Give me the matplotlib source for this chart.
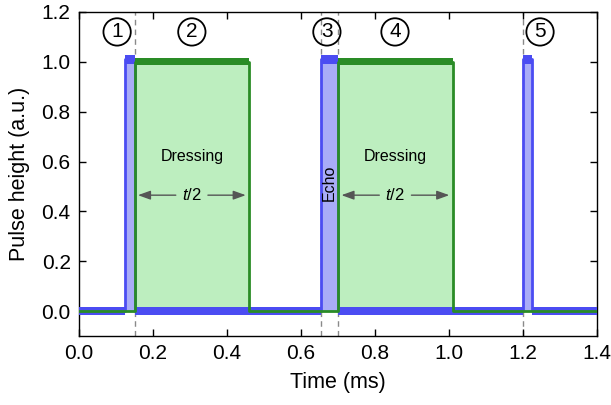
import numpy as np
import matplotlib.pyplot as plt

# pulse sequence (times in ms, heights in a.u.)
probe_start = [0.125, 0.655, 1.200]
probe_end = [0.150, 0.700, 1.225]
probe_height = [1.01, 1.01, 1.01]
dress_start = [0.150, 0.700]
dress_end = [0.460, 1.010]
dress_height = [1.00, 1.00]
t_end = 1.4

# scope noise spread (a.u.)
probe_noise = 0.017
dress_noise = 0.014

markers = [0.150, 0.655, 0.700, 1.200]
step_labels = ['1', '2', '3', '4', '5']
step_x = [0.103, 0.305, 0.670, 0.854, 1.246]

plt.rcParams['font.family'] = ['Liberation Sans', 'DejaVu Sans']
plt.rcParams['font.size'] = 15
plt.rcParams['mathtext.fontset'] = 'custom'
plt.rcParams['mathtext.rm'] = 'Liberation Sans'
plt.rcParams['mathtext.it'] = 'Liberation Sans:italic'

def trace(starts, ends, heights):
    x = [0.0]
    y = [0.0]
    for a, b, h in zip(starts, ends, heights):
        x += [a, a, b, b]
        y += [0.0, h, h, 0.0]
    x.append(t_end)
    y.append(0.0)
    return np.array(x), np.array(y)

xb, yb = trace(probe_start, probe_end, probe_height)
xg, yg = trace(dress_start, dress_end, dress_height)

blue = '#4b4cf2'
blue_fill = '#a9acf7'
green = '#2a8c26'
green_fill = '#bdeebf'

fig = plt.figure(figsize=(6.11, 4.05), dpi=100)
ax = fig.add_axes([0.1293, 0.1704, 0.8478, 0.800])

for m in markers:
    ax.axvline(m, color='#8a8a8a', ls=(0, (4, 3)), lw=1, zorder=1)

ax.fill_between(xg, 0, yg, color=green_fill, lw=0, zorder=2)
ax.fill_between(xb, 0, yb, color=blue_fill, lw=0, zorder=2)

ax.fill_between(xb, yb - probe_noise, yb + probe_noise, color=blue, lw=0, zorder=3)
ax.plot(xb, yb, color=blue, lw=2, zorder=3)
ax.fill_between(xg[1:-1], yg[1:-1] - dress_noise, yg[1:-1] + dress_noise,
                where=yg[1:-1] > 0.5, color=green, lw=0, zorder=4)
ax.plot(xg, yg, color=green, lw=2, zorder=4)

arrow = dict(arrowstyle='-|>,head_length=0.5,head_width=0.18', color='#555555',
             lw=1, shrinkA=0, shrinkB=0)
for a, b in zip(dress_start, dress_end):
    mid = (a + b) / 2
    ax.text(mid, 0.62, 'Dressing', ha='center', va='center', fontsize=11.5, zorder=5)
    ax.text(mid, 0.465, r'$t$/2', ha='center', va='center', fontsize=12, zorder=5)
    span = b - a
    ax.annotate('', xy=(a + 0.03 * span, 0.465), xytext=(mid - 0.14 * span, 0.465),
                arrowprops=arrow, zorder=5)
    ax.annotate('', xy=(b - 0.03 * span, 0.465), xytext=(mid + 0.14 * span, 0.465),
                arrowprops=arrow, zorder=5)

ax.text((probe_start[1] + probe_end[1]) / 2, 0.516, 'Echo', rotation=90,
        ha='center', va='center', fontsize=11.5, zorder=5)

for lab, x in zip(step_labels, step_x):
    ax.text(x, 1.12, lab, ha='center', va='center', fontsize=15, zorder=5,
            bbox=dict(boxstyle='circle,pad=0.2', fc='none', ec='black', lw=1.3))

ax.set_xlim(0, 1.4)
ax.set_ylim(-0.1, 1.2)
ax.set_xticks(np.arange(0, 1.41, 0.2))
ax.set_yticks(np.arange(0, 1.21, 0.2))
ax.set_xticklabels(['%.1f' % v for v in np.arange(0, 1.41, 0.2)])
ax.set_yticklabels(['%.1f' % v for v in np.arange(0, 1.21, 0.2)])
ax.tick_params(direction='in', top=True, right=True, length=5, width=1, labelsize=15, pad=6)
for s in ax.spines.values():
    s.set_linewidth(1)
ax.set_xlabel('Time (ms)', fontsize=15.5, labelpad=6)
ax.set_ylabel('Pulse height (a.u.)', fontsize=15.5, labelpad=8)

fig.savefig('out.png', dpi=100)
